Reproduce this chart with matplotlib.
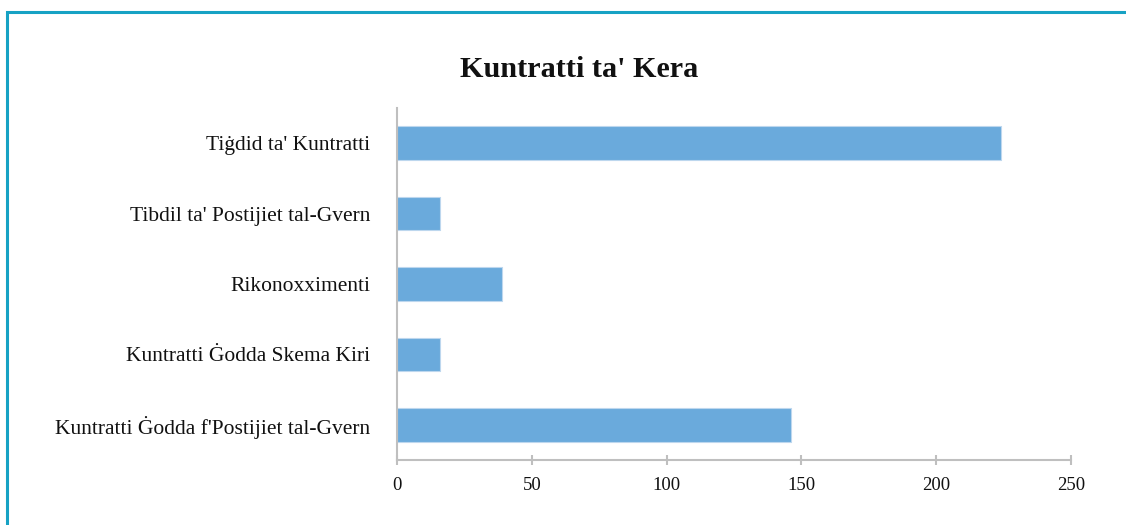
import matplotlib.pyplot as plt
from matplotlib.patches import Rectangle

categories = ["Kuntratti Ġodda f'Postijiet tal-Gvern",
              "Kuntratti Ġodda Skema Kiri",
              "Rikonoxximenti",
              "Tibdil ta' Postijiet tal-Gvern",
              "Tiġdid ta' Kuntratti"]
values = [146, 16, 39, 16, 224]
xticks = [0, 50, 100, 150, 200, 250]

plt.rcParams['font.family'] = ['Liberation Serif', 'DejaVu Serif']

W, H = 1126, 525
fig = plt.figure(figsize=(W / 100, H / 100), dpi=100)

# teal frame around the chart area (runs off right / bottom)
fig.patches.append(Rectangle((7 / W, -0.05), 1.2, 1 - 12 / H + 0.05,
                             transform=fig.transFigure, fill=False,
                             edgecolor='#17A2C4', linewidth=2.2))

ax = fig.add_axes([397 / W, 1 - 460 / H, (1071 - 397) / W, (460 - 108) / H])

grey = '#BFBFBF'
ax.barh(range(len(categories)), values, height=0.48, color='#6AAADC',
        edgecolor='#BDD7EE', linewidth=0.8)

ax.set_xlim(0, 250)
ax.set_ylim(-0.5, len(categories) - 0.5)
ax.set_xticks(xticks)
ax.set_xticklabels([str(t) for t in xticks])
ax.set_yticks(range(len(categories)))
ax.set_yticklabels(categories)

for s in ['top', 'right']:
    ax.spines[s].set_visible(False)
for s in ['left', 'bottom']:
    ax.spines[s].set_color(grey)
    ax.spines[s].set_linewidth(1.5)

ax.tick_params(axis='x', direction='inout', length=7, width=1.5, color=grey,
               labelsize=13.5, labelcolor='#111111', pad=9)
ax.tick_params(axis='y', length=0, labelsize=15.5, labelcolor='#111111', pad=19)

fig.text(579 / W, 1 - 77 / H, "Kuntratti ta' Kera",
         ha='center', va='baseline', fontsize=21.7, fontweight='bold', color='#111111')

fig.savefig('out.png', dpi=100)
